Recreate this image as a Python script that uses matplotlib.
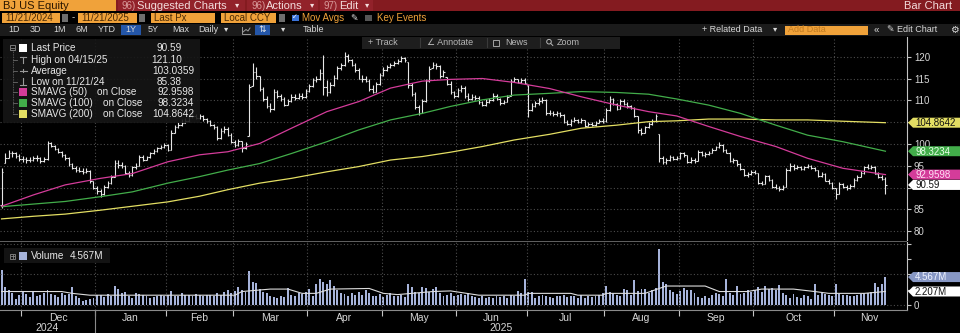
import numpy as np
import matplotlib.pyplot as plt
from matplotlib.patches import Rectangle, Polygon, Circle

plt.rcParams['font.family'] = ['Liberation Sans', 'DejaVu Sans']

W, H = 960, 333

# ---- daily bars, 11/21/2024 .. 11/21/2025 (one entry per trading day) ----
close = [
    93.5, 96.8, 97.8, 97.8, 97.2, 96.5, 96.5, 96.3, 96.3, 96.7,
    96.7, 96.0, 96.5, 100.2, 99.6, 98.8, 98.2, 97.4, 96.8, 95.3,
    94.5, 94.1, 93.9, 93.6, 93.9, 91.4, 90.0, 89.2, 88.4, 90.2,
    91.0, 92.4, 95.6, 95.2, 95.0, 93.4, 92.8, 94.6, 95.0, 97.0,
    96.4, 96.9, 97.8, 98.3, 99.0, 99.3, 99.8, 98.7, 102.6, 103.8,
    104.4, 104.9, 105.3, 106.3, 106.5, 106.0, 106.4, 105.7, 105.2, 104.4,
    103.8, 101.3, 103.0, 103.5, 102.0, 100.5, 99.8, 100.6, 99.0, 100.0,
    113.0, 116.5, 115.5, 112.5, 110.2, 108.8, 108.0, 111.8, 111.0, 110.3,
    109.0, 109.8, 110.8, 110.5, 111.0, 110.8, 112.2, 113.3, 114.6, 114.8,
    116.3, 113.0, 111.8, 113.5, 115.2, 117.3, 118.0, 120.2, 119.2, 118.2,
    117.0, 115.0, 114.8, 114.5, 112.5, 112.0, 113.8, 115.8, 117.0, 117.6,
    118.0, 118.6, 119.0, 119.6, 119.2, 113.5, 111.5, 108.5, 107.2, 109.8,
    114.5, 117.2, 118.0, 117.8, 115.5, 116.5, 113.8, 111.8, 111.0,
    112.3, 112.8, 111.0, 110.2, 110.8, 110.6, 109.5, 109.0, 109.6, 110.0,
    111.0, 110.4, 109.3, 109.7, 110.8, 114.5, 114.8, 114.3, 114.7, 114.0,
    107.8, 108.6, 109.3, 109.8, 110.0, 107.0, 107.2, 106.8, 107.0, 106.6,
    105.0, 104.6, 105.2, 105.5, 105.1, 105.4, 104.2, 104.6, 104.4, 104.8,
    105.2, 105.3, 107.8, 110.2, 109.2, 108.0, 109.8, 109.2, 108.6, 108.2,
    106.5, 103.2, 102.6, 103.8, 104.6, 105.3, 106.3, 96.8, 95.8, 96.3,
    97.0, 96.6, 96.8, 97.8, 97.5, 95.9, 96.4, 96.0, 98.2, 97.5,
    97.6, 98.0, 98.6, 99.2, 99.8, 98.5, 98.0, 96.0, 96.2, 95.4,
    94.2, 92.8, 93.0, 93.6, 93.3, 91.0, 90.8, 92.6, 91.8, 90.2,
    90.0, 89.6, 90.2, 94.0, 95.0, 94.4, 94.8, 94.2, 94.6, 95.0,
    94.4, 94.0, 92.6, 93.2, 91.6, 91.0, 89.8, 88.6, 90.8, 90.2,
    89.8, 90.3, 91.8, 92.5, 93.3, 94.6, 94.5, 94.8, 93.2, 92.4,
    92.0, 90.59,
]
high = [
    94.5, 98.0, 98.6, 98.4, 98.2, 97.6, 97.2, 97.0, 96.9, 97.3,
    97.4, 96.9, 97.0, 100.6, 100.5, 99.8, 99.0, 98.4, 97.6, 97.0,
    95.6, 95.0, 94.6, 94.4, 94.5, 94.0, 91.6, 90.4, 89.6, 90.6,
    91.6, 92.9, 96.2, 96.4, 95.8, 95.2, 93.8, 95.0, 95.6, 97.4,
    97.4, 97.3, 98.2, 98.8, 99.4, 99.8, 100.2, 99.9, 103.2, 104.4,
    105.0, 105.6, 106.0, 106.8, 107.4, 106.9, 106.8, 106.6, 106.0, 105.4,
    104.6, 104.0, 103.6, 104.2, 103.8, 102.4, 100.9, 101.2, 100.6, 100.5,
    113.8, 118.6, 117.6, 115.6, 113.0, 111.0, 109.4, 112.5, 112.4, 111.4,
    110.8, 110.4, 111.4, 111.5, 111.6, 111.6, 112.7, 113.8, 115.2, 115.6,
    117.2, 120.4, 114.6, 114.2, 115.8, 117.8, 118.6, 121.1, 120.6, 119.4,
    118.6, 117.4, 115.8, 115.6, 115.0, 113.4, 114.3, 116.2, 117.6, 118.1,
    118.5, 119.0, 119.5, 120.1, 120.0, 118.8, 114.0, 112.0, 109.0, 110.2,
    114.9, 117.8, 118.8, 118.6, 118.0, 117.0, 115.4, 114.4, 112.2,
    112.9, 113.6, 113.2, 111.6, 111.4, 111.3, 110.9, 109.8, 110.2, 110.6,
    111.6, 111.5, 110.6, 110.1, 111.2, 114.9, 115.4, 115.0, 115.2, 115.1,
    113.5, 109.3, 109.9, 110.6, 110.8, 110.4, 107.8, 107.5, 107.6, 107.4,
    106.8, 105.4, 105.6, 106.1, 105.8, 105.9, 105.5, 105.0, 105.0, 105.3,
    105.8, 106.0, 108.3, 110.9, 110.6, 109.4, 110.4, 110.2, 109.5, 108.9,
    108.4, 106.4, 103.6, 104.2, 105.0, 105.7, 106.8, 102.2, 97.2, 96.8,
    97.4, 97.3, 97.2, 98.2, 98.2, 97.4, 96.9, 96.7, 98.6, 98.4,
    98.1, 98.4, 99.0, 99.6, 100.5, 100.0, 98.8, 98.2, 96.7, 96.4,
    95.6, 94.3, 93.6, 94.0, 94.0, 93.4, 91.6, 92.9, 92.8, 92.0,
    90.7, 90.4, 90.6, 94.4, 95.6, 95.3, 95.2, 95.0, 95.0, 95.4,
    95.2, 94.6, 94.1, 93.6, 93.3, 91.9, 91.2, 90.0, 91.2, 91.1,
    90.6, 90.7, 92.2, 92.9, 93.7, 95.0, 95.5, 95.2, 94.9, 93.6,
    92.8, 92.4,
]
low = [
    85.38, 95.6, 96.8, 97.0, 96.8, 96.0, 95.9, 95.7, 95.8, 96.0,
    96.1, 95.7, 95.8, 96.3, 99.2, 98.5, 97.9, 97.0, 96.4, 95.0,
    94.2, 93.6, 93.5, 93.2, 93.3, 91.0, 89.6, 88.6, 87.9, 88.3,
    89.9, 90.8, 92.3, 94.5, 94.4, 93.1, 92.4, 92.6, 94.2, 94.9,
    96.0, 96.2, 96.7, 97.6, 98.1, 98.8, 99.1, 98.4, 98.7, 102.4,
    103.6, 104.1, 104.7, 105.1, 105.9, 105.6, 105.7, 105.3, 104.9, 104.0,
    103.4, 101.0, 101.2, 102.6, 101.7, 100.2, 99.3, 99.6, 98.2, 98.9,
    101.8, 113.2, 115.0, 112.1, 109.8, 108.2, 107.4, 107.8, 110.6, 109.9,
    108.6, 108.9, 109.6, 110.0, 110.3, 110.2, 110.6, 112.0, 113.1, 114.2,
    114.6, 111.2, 111.0, 111.6, 113.2, 115.0, 117.0, 117.8, 118.9, 117.8,
    116.6, 114.8, 114.3, 114.1, 112.1, 111.6, 111.9, 113.6, 115.6, 116.8,
    117.4, 117.8, 118.4, 118.8, 118.9, 112.8, 110.9, 107.9, 106.6, 107.0,
    109.6, 114.2, 117.3, 117.2, 115.1, 115.3, 113.5, 111.4, 110.6,
    110.8, 112.0, 110.6, 109.8, 110.0, 110.1, 109.2, 108.7, 108.8, 109.3,
    109.8, 110.1, 109.0, 109.1, 109.5, 110.9, 114.1, 113.9, 114.0, 113.8,
    106.2, 107.5, 108.4, 109.0, 109.4, 106.6, 106.7, 106.4, 106.5, 106.2,
    104.7, 104.3, 104.2, 105.0, 104.8, 104.9, 103.9, 104.0, 104.1, 104.2,
    104.7, 104.9, 105.1, 107.6, 108.9, 107.7, 107.9, 108.9, 108.2, 107.9,
    106.2, 102.6, 102.0, 102.5, 103.6, 104.4, 105.1, 95.8, 95.3, 95.4,
    96.1, 96.2, 96.2, 96.6, 97.1, 95.7, 95.6, 95.7, 96.0, 97.2,
    97.1, 97.4, 97.9, 98.5, 99.1, 98.2, 97.8, 95.8, 95.7, 95.0,
    94.0, 92.6, 92.5, 92.8, 93.0, 90.7, 90.5, 90.8, 91.5, 90.0,
    89.6, 89.2, 89.4, 90.1, 93.8, 94.1, 94.2, 94.0, 94.0, 94.4,
    94.2, 93.8, 92.4, 92.5, 91.4, 90.7, 89.6, 87.4, 88.5, 89.9,
    89.5, 89.6, 90.2, 91.6, 92.3, 93.2, 94.2, 94.3, 93.0, 92.2,
    91.8, 88.5,
]
first_open = 86.0

# volume, millions of shares
volume = [
    5.8, 3.0, 2.4, 1.9, 1.0, 1.6, 2.1, 1.8, 1.3, 2.2,
    1.5, 1.7, 1.9, 2.4, 1.8, 1.6, 1.3, 1.9, 1.6, 1.8,
    2.9, 1.5, 1.2, 0.6, 0.8, 1.0, 1.2, 1.6, 1.7, 1.3,
    1.8, 1.5, 3.1, 2.6, 2.0, 2.2, 1.4, 1.2, 1.9, 1.8,
    1.7, 1.4, 1.2, 1.3, 1.5, 1.6, 1.4, 1.7, 2.3, 1.5,
    1.4, 1.9, 1.6, 1.7, 1.5, 1.8, 1.6, 1.4, 1.7, 1.6,
    1.5, 1.9, 1.6, 2.2, 2.4, 2.0, 2.3, 3.0, 2.4, 2.2,
    5.6, 3.8, 3.6, 2.6, 2.2, 2.0, 1.5, 1.3, 1.2, 1.5,
    1.3, 2.7, 1.6, 1.4, 1.9, 1.8, 2.2, 2.6, 1.5, 3.5,
    4.2, 3.8, 3.5, 4.1, 3.1, 2.4, 2.0, 1.8, 1.5, 2.0,
    1.7, 2.2, 1.6, 2.4, 1.9, 1.5, 1.4, 1.8, 1.3, 1.6,
    1.9, 1.5, 1.4, 1.7, 1.3, 3.4, 2.9, 2.2, 2.0, 2.9,
    2.7, 2.2, 2.6, 3.0, 1.9, 1.4, 1.7, 1.9, 1.5,
    1.6, 1.8, 1.6, 1.9, 1.4, 1.3, 1.2, 1.4, 1.1, 1.3,
    1.2, 1.4, 1.3, 1.5, 1.2, 1.6, 1.4, 2.3, 1.9, 4.3,
    2.2, 2.2, 1.1, 1.4, 1.6, 1.5, 1.3, 1.2, 1.5, 1.4,
    1.6, 1.3, 1.5, 1.4, 1.2, 1.6, 1.1, 1.4, 1.3, 1.5,
    1.6, 1.9, 3.1, 2.2, 2.0, 1.6, 1.4, 2.6, 2.4, 1.7,
    4.1, 2.3, 2.6, 2.6, 2.0, 2.4, 2.7, 9.2, 3.8, 3.5,
    2.4, 2.1, 1.8, 2.3, 2.7, 2.5, 2.4, 1.9, 1.3, 1.1,
    1.4, 1.2, 1.6, 1.9, 1.8, 1.5, 4.3, 1.9, 1.6, 3.1,
    1.8, 1.9, 2.4, 2.2, 2.4, 2.9, 2.2, 3.1, 2.6, 2.7,
    2.5, 3.3, 1.9, 1.6, 1.2, 1.8, 1.3, 1.1, 1.6, 1.4,
    0.9, 3.5, 1.6, 1.9, 1.8, 1.7, 1.4, 3.4, 1.8, 1.6,
    1.7, 1.5, 1.5, 1.6, 1.8, 1.9, 2.0, 2.2, 3.6, 2.9,
    3.5, 4.567,
]

# moving averages, sampled along the trading-day index
ma_idx = [0, 9, 18, 28, 37, 47, 56, 64, 73, 82, 92, 101, 110, 119,
          127, 136, 145, 155, 164, 174, 183, 191, 200, 209, 219, 228, 238, 250]
sma50 = [85.7, 88.3, 90.6, 92.1, 93.2, 95.9, 97.5, 98.2, 100.1, 103.6, 107.4, 109.7, 112.8, 114.4,
         114.8, 115.0, 114.1, 112.7, 110.8, 108.9, 107.4, 106.4, 104.0, 101.7, 99.4, 96.7, 94.4, 92.9598]
sma100 = [85.6, 86.2, 86.8, 87.9, 89.0, 91.0, 92.5, 94.0, 95.5, 97.8, 100.5, 103.2, 105.5, 107.0,
          108.6, 110.1, 111.2, 111.6, 112.0, 111.8, 111.4, 110.3, 108.9, 107.0, 104.3, 102.0, 100.5, 98.3234]
sma200 = [82.8, 83.4, 83.9, 84.8, 85.7, 86.7, 88.0, 89.5, 91.0, 92.1, 93.6, 94.8, 96.3, 97.1,
          98.1, 99.4, 100.9, 102.2, 103.6, 104.3, 105.1, 105.3, 105.7, 105.7, 105.5, 105.5, 105.2, 104.8642]

vol_ma_idx = [0, 10, 17, 20, 25, 40, 55, 66, 68, 72, 76, 81, 85, 89, 93, 104, 108, 112, 122, 127,
              135, 148, 149, 161, 163, 170, 171, 182, 186, 188, 199, 203, 211, 215, 224, 230, 234, 244, 250]
vol_ma = [2.2, 2.2, 2.2, 1.9, 1.6, 1.6, 1.6, 1.6, 2.2, 2.4, 2.6, 2.6, 1.9, 1.9, 2.6, 2.7, 1.9, 1.7, 2.2, 2.3,
          1.6, 1.6, 1.9, 1.9, 1.6, 1.6, 1.9, 1.9, 2.7, 3.1, 3.1, 2.2, 2.2, 2.6, 2.6, 2.2, 1.9, 1.9, 2.207]

month_names = ["Dec", "Jan", "Feb", "Mar", "Apr", "May", "Jun", "Jul", "Aug", "Sep", "Oct", "Nov"]
month_start = [6, 27, 47, 66, 87, 108, 129, 149, 171, 192, 213, 236, 256]  # last one: Dec 2025

price_ticks = [80, 85, 90, 95, 100, 105, 110, 115, 120]
price_tick_labels = ["80", "85", "", "95", "100", "", "110", "115", "120"]  # 90/105 sit under the tags

legend_rows = [("Last Price", "90.59"), ("High on 04/15/25", "121.10"), ("Average", "103.0359"),
               ("Low on 11/21/24", "85.38")]
avg_rows = [("SMAVG (50)", "92.9598"), ("SMAVG (100)", "98.3234"), ("SMAVG (200)", "104.8642")]

BAR = '#e6e6e6'
C50, C100, C200 = '#d43c9a', '#42ad4a', '#e3de63'
VOLC = '#a6b3da'
GRID = '#4c4c4c'
AXC = '#c4c4c4'
ORANGE = '#f0a23a'

fig = plt.figure(figsize=(W / 100, H / 100), dpi=100, facecolor='black')
ax = fig.add_axes([0, 1 - 240 / H, 907 / W, 203 / H], facecolor='black')
axv = fig.add_axes([0, 1 - 310 / H, 907 / W, 68 / H], facecolor='black', sharex=ax)
over = fig.add_axes([0, 0, 1, 1], facecolor='none', zorder=10)
over.set_xlim(0, W)
over.set_ylim(H, 0)
over.axis('off')

idx = np.arange(len(close))
close = np.array(close)
high = np.array(high)
low = np.array(low)
opens = np.clip(np.r_[first_open, close[:-1]], low, high)
bounds = [m - 0.5 for m in month_start[:-1]]

# ---- price panel ----
ax.vlines(idx, low, high, color=BAR, lw=0.8)
ax.hlines(opens, idx - 0.45, idx, color=BAR, lw=0.8)
ax.hlines(close, idx, idx + 0.45, color=BAR, lw=0.8)
ax.plot(ma_idx, sma200, color=C200, lw=0.9)
ax.plot(ma_idx, sma100, color=C100, lw=0.9)
ax.plot(ma_idx, sma50, color=C50, lw=0.9)

ax.set_xlim(-0.44, 256.1)
ax.set_ylim(77.96, 124.52)
ax.yaxis.tick_right()
ax.set_yticks(price_ticks)
ax.set_yticklabels(price_tick_labels)
ax.set_xticks(bounds)
ax.tick_params(axis='y', colors=AXC, labelcolor='#d6d6d6', labelsize=7, length=3, width=0.8, pad=2)
ax.tick_params(axis='x', length=0, labelbottom=False)
for s in ['top', 'left', 'bottom']:
    ax.spines[s].set_visible(False)
ax.spines['right'].set_color(AXC)
ax.grid(True, color=GRID, ls=(0, (1, 2)), lw=0.8)

# ---- volume panel ----
axv.bar(idx, volume, width=0.55, color=VOLC, lw=0)
axv.plot(vol_ma_idx, vol_ma, color='#dcdcdc', lw=0.8)
axv.set_ylim(-0.82, 10.3)
axv.yaxis.tick_right()
axv.set_yticks([0, 5, 10])
axv.set_yticklabels(['0', '', ''])
axv.set_yticks([2.5, 7.5], minor=True)
axv.tick_params(axis='y', which='both', colors=AXC, labelcolor='#d6d6d6', labelsize=7, length=3, width=0.8, pad=2)
axv.set_xticks(bounds)
axv.set_xticklabels([])
axv.tick_params(axis='x', colors=AXC, length=4, width=0.8)
axv.spines['top'].set_visible(False)
axv.spines['left'].set_visible(False)
axv.spines['right'].set_color(AXC)
axv.spines['bottom'].set_color('#8a8a8a')
axv.grid(True, color=GRID, ls=(0, (1, 2)), lw=0.8)

xt = axv.get_xaxis_transform()
for i, name in enumerate(month_names):
    mid = (month_start[i] + month_start[i + 1]) / 2 - 0.5
    axv.text(mid, -0.12, name, transform=xt, ha='center', va='center', color='#d6d6d6', fontsize=7.5)
axv.text(13, -0.265, "2024", transform=xt, ha='center', va='center', color='#d6d6d6', fontsize=7.5)
axv.text(141.3, -0.265, "2025", transform=xt, ha='center', va='center', color='#d6d6d6', fontsize=7.5)
axv.plot([26.5, 26.5], [0, -0.35], transform=xt, color='#8a8a8a', lw=0.8, clip_on=False)

# separator between panels
over.add_patch(Rectangle((0, 240.5), 907, 1.6, color='#5e5e5e', lw=0))


def ypix(axis, value):
    return H - axis.transData.transform((0, value))[1]


def tag(axis, value, text, face, fg):
    y = ypix(axis, value)
    over.add_patch(Polygon([(908, y), (913, y - 5), (960, y - 5), (960, y + 5), (913, y + 5)],
                           closed=True, fc=face, ec='none'))
    over.text(915, y + 0.3, text, color=fg, fontsize=7, va='center', ha='left')


tag(ax, sma200[-1], "104.8642", C200, '#111111')
tag(ax, sma100[-1], "98.3234", C100, '#e8ffe8')
tag(ax, sma50[-1], "92.9598", C50, '#ffe0f4')
tag(ax, close[-1], "90.59", '#ffffff', '#111111')
tag(axv, volume[-1], "4.567M", '#8797c4', '#eef2ff')
tag(axv, vol_ma[-1], "2.207M", '#ffffff', '#111111')

# ---- header rows ----
over.add_patch(Rectangle((0, 0), W, 11, color='#841b20', lw=0))
over.add_patch(Rectangle((0, 0), 116, 11, color=ORANGE, lw=0))
over.text(3, 5.8, "BJ US Equity", color='#2a1600', fontsize=8, va='center')
for x0, x1, num, label, arrow in [(118, 245, "96)", "Suggested Charts", 237),
                                  (247, 318, "96)", "Actions", 312),
                                  (320, 373, "97)", "Edit", 367)]:
    over.add_patch(Rectangle((x0, 0), x1 - x0, 11, color='#92222a', lw=0))
    over.text(x0 + 4, 5.8, num, color='#d89a9a', fontsize=7, va='center')
    over.text(x0 + 19, 5.8, label, color='#f3dcdc', fontsize=8, va='center')
    over.text(arrow, 5.8, "▾", color='#f3dcdc', fontsize=6, va='center', ha='center')
over.text(952, 5.8, "Bar Chart", color='#f3dcdc', fontsize=8, va='center', ha='right')

over.add_patch(Rectangle((0, 11), W, 13, color='black', lw=0))
for x0, x1, label in [(2, 60, "11/21/2024"), (78, 137, "11/21/2025"), (151, 215, "Last Px"),
                      (221, 276, "Local CCY")]:
    over.add_patch(Rectangle((x0, 13), x1 - x0, 9.5, color=ORANGE, lw=0))
    over.text(x0 + 3, 17.9, label, color='#4a2a05', fontsize=7, va='center')
for x0 in [61.5, 138.5, 278.5]:
    over.add_patch(Rectangle((x0, 13.5), 6, 8.5, color='#6e6e6e', lw=0))
over.text(72, 17.6, "-", color='#cccccc', fontsize=7, va='center')
over.add_patch(Rectangle((292, 14.5), 6.5, 6.5, color='#3a72d8', lw=0))
over.text(295.2, 17.8, "✓", color='white', fontsize=5, va='center', ha='center')
over.text(302, 17.9, "Mov Avgs", color=ORANGE, fontsize=7, va='center')
over.text(350, 17.9, "✎", color='#e0e0e0', fontsize=6.5, va='center')
over.add_patch(Rectangle((365, 14.5), 6.5, 6.5, color='#555555', lw=0))
over.text(377, 17.9, "Key Events", color=ORANGE, fontsize=7, va='center')

over.add_patch(Rectangle((0, 24), W, 12, color='#1b1b1b', lw=0))
over.add_patch(Rectangle((121, 25), 20, 10, color='#2456a8', lw=0))
over.add_patch(Rectangle((255, 25), 15, 10, color='#2456a8', lw=0))
for x, label in [(8, "1D"), (30, "3D"), (53, "1M"), (75, "6M"), (98, "YTD"), (125, "1Y"), (148, "5Y"),
                 (172, "Max"), (198, "Daily"), (303, "Table")]:
    over.text(x, 30, label, color='#d8d8d8', fontsize=6.5, va='center')
for x in [226, 283]:
    over.text(x, 30, "▾", color='#d8d8d8', fontsize=6, va='center', ha='center')
over.plot([242, 242, 250], [26.5, 33.5, 33.5], color='#9a9a9a', lw=0.7)
over.plot([243, 246, 248, 250], [32, 29.5, 31, 28], color='#9a9a9a', lw=0.7)
over.text(262.5, 30, "⇅", color='#e8e8e8', fontsize=6.5, va='center', ha='center')
over.text(702, 30, "+ Related Data", color='#d8d8d8', fontsize=6.5, va='center')
over.text(775, 30, "▾", color='#d8d8d8', fontsize=6, va='center', ha='center')
over.add_patch(Rectangle((785, 25.5), 83, 9, color=ORANGE, lw=0))
over.text(788, 30, "Add Data", color='#c07a20', fontsize=6.5, va='center')
over.text(874, 30, "«", color='#d8d8d8', fontsize=7, va='center')
over.text(887, 30, "✎ Edit Chart", color='#d8d8d8', fontsize=6.5, va='center')
over.text(950, 30, "⚙", color='#d8d8d8', fontsize=7, va='center')

# chart toolbar
over.add_patch(Rectangle((362, 36.5), 258, 12, color='#1e1e1e', lw=0))
for x in [420, 487, 540]:
    over.plot([x, x], [38, 47], color='#3a3a3a', lw=0.8)
over.text(368, 42.5, "+ Track", color='#b8b8b8', fontsize=6.5, va='center')
over.text(427, 42.5, "∠ Annotate", color='#b8b8b8', fontsize=6.5, va='center')
over.add_patch(Rectangle((493, 39.5), 6, 6, fc='none', ec='#b8b8b8', lw=0.6))
over.text(505, 42.5, "News", color='#b8b8b8', fontsize=6.5, va='center')
over.add_patch(Circle((549, 41.7), 2.3, fc='none', ec='#b8b8b8', lw=0.7))
over.plot([550.7, 552.8], [43.4, 45.5], color='#b8b8b8', lw=0.7)
over.text(557, 42.5, "Zoom", color='#b8b8b8', fontsize=6.5, va='center')

# ---- price legend ----
over.add_patch(Rectangle((3, 39), 197, 84, color='#161616', alpha=0.9, lw=0))
over.add_patch(Rectangle((10, 45), 5, 5, fc='none', ec='#8a8a8a', lw=0.6))
over.plot([11, 14], [47.5, 47.5], color='#8a8a8a', lw=0.6)
over.plot([12.5, 12.5], [50, 114], color='#6a6a6a', lw=0.6, ls=(0, (1, 1)))
row_y = [48.3, 59.7, 70.7, 81.7, 92.3, 103.2, 114.2]
for y in row_y[1:]:
    over.plot([12.5, 17], [y, y], color='#6a6a6a', lw=0.6)
over.add_patch(Rectangle((19, 44.3), 8, 8, color='white', lw=0))
over.plot([20, 26], [56.5, 56.5], color='#9a9a9a', lw=0.8)
over.plot([23, 23], [56.5, 63], color='#9a9a9a', lw=0.8)
over.plot([19.5, 26.5], [70.7, 70.7], color='#9a9a9a', lw=0.8)
over.plot([23, 23], [69, 72.4], color='#9a9a9a', lw=0.8)
over.plot([23, 23], [78, 84.5], color='#9a9a9a', lw=0.8)
over.plot([20, 26], [84.5, 84.5], color='#9a9a9a', lw=0.8)
for (label, val), y in zip(legend_rows, row_y[:4]):
    over.text(31, y, label, color='#e8e8e8', fontsize=7.2, va='center')
    over.text(194 if len(val) > 6 else 182, y, val, color='#e8e8e8', fontsize=7.2, va='center', ha='right')
for (label, val), y, col, xo in zip(avg_rows, row_y[4:], [C50, C100, C200], [97, 103, 103]):
    over.add_patch(Rectangle((19, y - 4), 8, 8, color=col, lw=0))
    over.text(31, y, label, color='#e8e8e8', fontsize=7.2, va='center')
    over.text(xo, y, "on Close", color='#e8e8e8', fontsize=7.2, va='center')
    over.text(194, y, val, color='#e8e8e8', fontsize=7.2, va='center', ha='right')

# ---- volume legend ----
over.add_patch(Rectangle((4, 248), 106, 15, color='#161616', alpha=0.9, lw=0))
over.add_patch(Rectangle((10, 253.5), 5, 5, fc='none', ec='#8a8a8a', lw=0.6))
over.plot([11, 14], [256, 256], color='#8a8a8a', lw=0.6)
over.plot([12.5, 12.5], [254.5, 257.5], color='#8a8a8a', lw=0.6)
over.add_patch(Rectangle((19, 252), 8, 8, color=VOLC, lw=0))
over.text(31, 256, "Volume", color='#e8e8e8', fontsize=7.2, va='center')
over.text(70, 256, "4.567M", color='#e8e8e8', fontsize=7.2, va='center')

fig.savefig("out.png", dpi=100, facecolor='black')
